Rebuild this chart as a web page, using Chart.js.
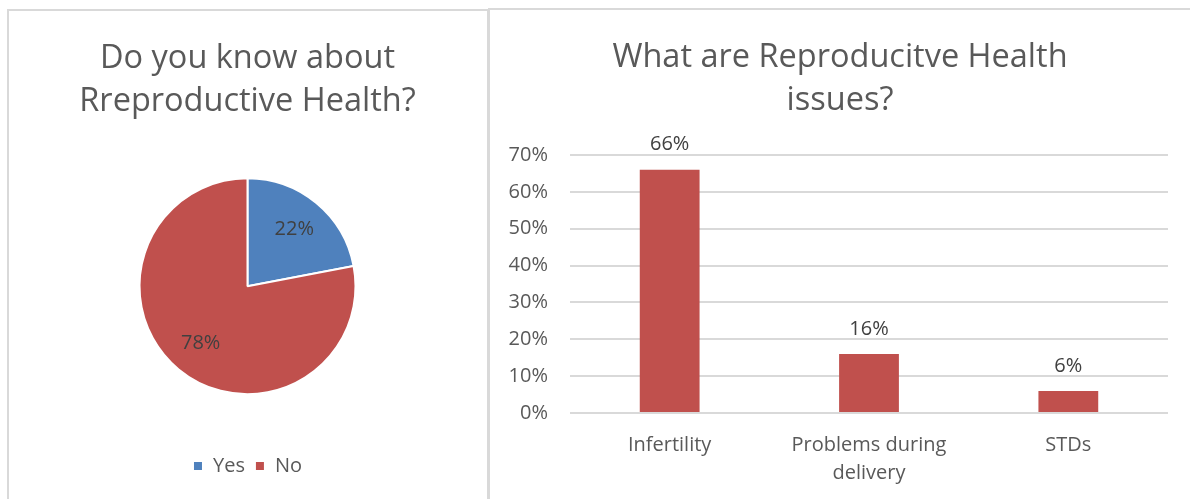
<!DOCTYPE html>
<html>
<head>
<meta charset="utf-8">
<script src="https://cdn.jsdelivr.net/npm/chart.js@4/dist/chart.umd.min.js"></script>
<style>
  html, body { margin: 0; padding: 0; background: #fff; }
  body { width: 1190px; height: 499px; position: relative; overflow: hidden; }
  .panel { position: absolute; border: 2px solid #D9D9D9; box-sizing: border-box; }
  #p1 { left: 7px; top: 9px; width: 482px; height: 520px; }
  #p2 { left: 488px; top: 8px; width: 720px; height: 520px; }
  #c1 { position: absolute; left: 9px; top: 11px; }
  #c2 { position: absolute; left: 490px; top: 10px; }
</style>
</head>
<body>
<div class="panel" id="p1"></div>
<div class="panel" id="p2"></div>
<canvas id="c1" width="477" height="488" style="width:477px;height:488px"></canvas>
<canvas id="c2" width="700" height="489" style="width:700px;height:489px"></canvas>
<script>
// ---- Data ----
const pieTitle = ['Do you know about', 'Rreproductive Health?'];
const pieLabels = ['Yes', 'No'];
const pieValues = [22, 78];
const pieColors = ['#4F81BD', '#C0504D'];

const barTitle = ['What are Reproducitve Health', 'issues?'];
const barCategories = ['Infertility', ['Problems during', 'delivery'], 'STDs'];
const barValues = [66, 16, 6];
const barColor = '#C0504D';
const yMax = 70;
const yStep = 10;

Chart.defaults.font.family = "'Open Sans', sans-serif";
Chart.defaults.color = '#595959';
Chart.defaults.animation = false;

const TEXT = '#595959';
const LABEL = '#404040';

const pieLabelPlugin = {
  id: 'pieLabels',
  afterDatasetsDraw(chart) {
    const ctx = chart.ctx;
    const meta = chart.getDatasetMeta(0);
    ctx.save();
    ctx.font = "20px 'Open Sans', sans-serif";
    ctx.fillStyle = LABEL;
    ctx.textAlign = 'center';
    ctx.textBaseline = 'middle';
    meta.data.forEach((arc, i) => {
      const p = arc.getProps(['x', 'y', 'startAngle', 'endAngle', 'outerRadius']);
      const mid = (p.startAngle + p.endAngle) / 2;
      const r = p.outerRadius * 0.68;
      ctx.fillText(pieValues[i] + '%', p.x + Math.cos(mid) * r, p.y + Math.sin(mid) * r);
    });
    ctx.restore();
  }
};

new Chart(document.getElementById('c1'), {
  type: 'pie',
  data: {
    labels: pieLabels,
    datasets: [{
      data: pieValues,
      backgroundColor: pieColors,
      borderColor: '#ffffff',
      borderWidth: 2,
      radius: 108,
      hoverOffset: 0
    }]
  },
  options: {
    responsive: false,
    layout: { padding: { top: 0, bottom: 13, left: 0, right: 0 } },
    plugins: {
      title: {
        display: true,
        text: pieTitle,
        color: TEXT,
        font: { size: 32.5, weight: 'normal', lineHeight: 1.33 },
        padding: { top: 26, bottom: 3 }
      },
      legend: {
        display: true,
        position: 'bottom',
        labels: {
          color: TEXT,
          font: { size: 20 },
          boxWidth: 10,
          boxHeight: 10,
          padding: 10
        }
      },
      tooltip: { enabled: false }
    }
  },
  plugins: [pieLabelPlugin]
});

const barLabelPlugin = {
  id: 'barLabels',
  afterDatasetsDraw(chart) {
    const ctx = chart.ctx;
    const meta = chart.getDatasetMeta(0);
    ctx.save();
    ctx.font = "20px 'Open Sans', sans-serif";
    ctx.fillStyle = LABEL;
    ctx.textAlign = 'center';
    ctx.textBaseline = 'middle';
    meta.data.forEach((bar, i) => {
      ctx.fillText(barValues[i] + '%', bar.x, bar.y - 25);
    });
    ctx.restore();
  }
};

new Chart(document.getElementById('c2'), {
  type: 'bar',
  data: {
    labels: barCategories,
    datasets: [{
      data: barValues,
      backgroundColor: barColor,
      barPercentage: 0.3,
      categoryPercentage: 1.0,
      yAxisID: 'y'
    }]
  },
  options: {
    responsive: false,
    layout: { padding: { top: 0, bottom: 0, left: 0, right: 0 } },
    scales: {
      x: {
        grid: { display: false, drawTicks: false },
        border: { display: false },
        ticks: { color: TEXT, font: { size: 20, lineHeight: 1.4 }, padding: 18, maxRotation: 0 },
        afterFit(scale) { scale.height = 86; }
      },
      y: {
        position: 'left',
        min: 0,
        max: yMax,
        grid: { color: '#D9D9D9', lineWidth: 2, drawTicks: false },
        border: { display: false },
        ticks: {
          stepSize: yStep,
          color: TEXT,
          font: { size: 20 },
          padding: 22,
          callback: v => v + '%'
        },
        afterFit(scale) { scale.width = 80; }
      },
      yRightSpace: {
        position: 'right',
        grid: { display: false, drawTicks: false },
        border: { display: false },
        ticks: { display: false },
        afterFit(scale) { scale.width = 22; }
      }
    },
    plugins: {
      title: {
        display: true,
        text: barTitle,
        color: TEXT,
        font: { size: 32.5, weight: 'normal', lineHeight: 1.33 },
        padding: { top: 26, bottom: 32.5 }
      },
      legend: { display: false },
      tooltip: { enabled: false }
    }
  },
  plugins: [barLabelPlugin]
});
</script>
</body>
</html>
